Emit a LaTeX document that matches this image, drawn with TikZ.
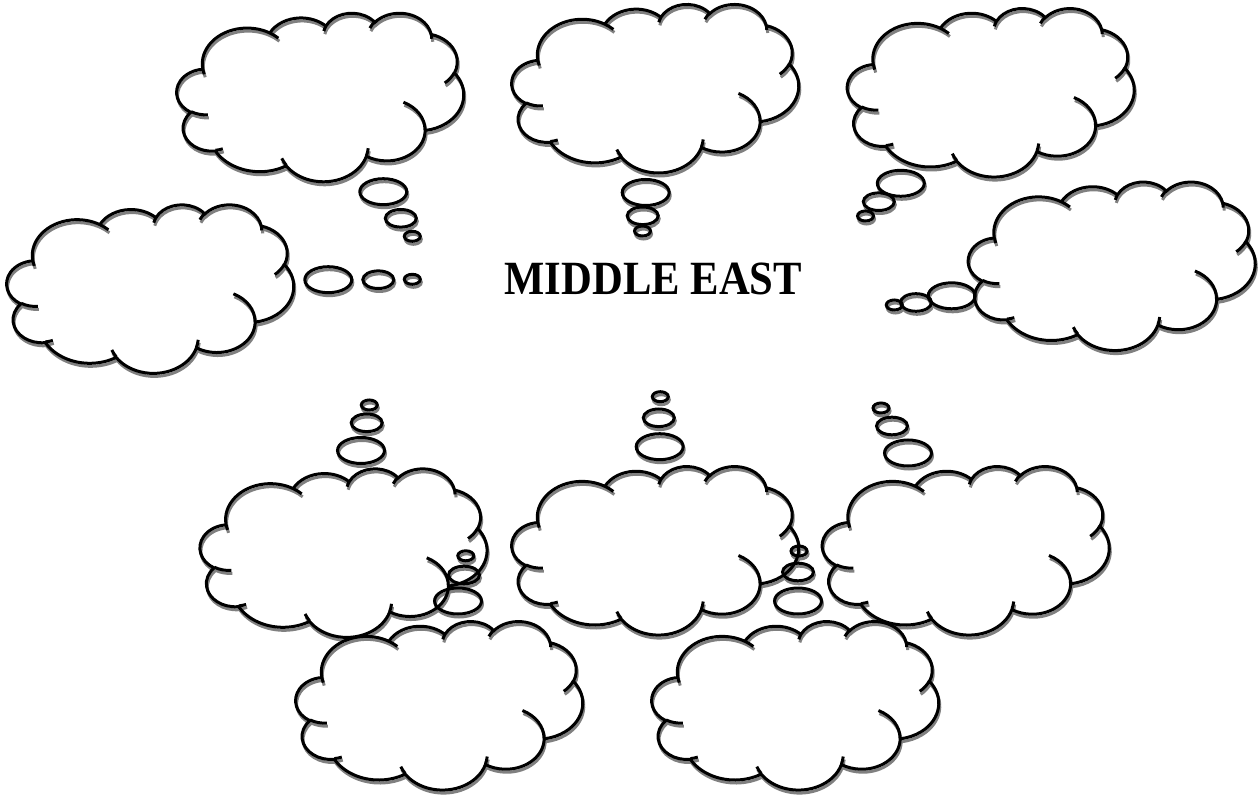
\documentclass[tikz,border=0pt]{standalone}
\usepackage{fontspec}
\setmainfont{Liberation Serif}
\usepackage{graphicx}

% convert DrawingML visual angles to TikZ parametric angles
\newcommand\mkang[5]{%
 \pgfmathsetmacro\tmpS{atan2((#2)*sin(#4),(#3)*cos(#4))}%
 \pgfmathsetmacro\tmpE{atan2((#2)*sin((#4)+(#5)),(#3)*cos((#4)+(#5)))}%
 \pgfmathsetmacro\tmpD{mod((\tmpE)-(\tmpS)+720,360)}%
 \pgfmathsetmacro\tmpF{(\tmpS)+(\tmpD)}%
 \expandafter\xdef\csname #1s\endcsname{\tmpS}%
 \expandafter\xdef\csname #1e\endcsname{\tmpF}}

\mkang{cldOA}{6.753}{9.190}{-190.488}{123.780}
\mkang{cldOB}{5.333}{7.267}{-144.102}{89.945}
\mkang{cldOC}{4.365}{5.945}{-145.808}{99.723}
\mkang{cldOD}{4.857}{6.595}{-130.986}{117.242}
\mkang{cldOE}{5.333}{7.273}{-78.709}{109.027}
\mkang{cldOF}{6.775}{9.220}{-46.267}{130.269}
\mkang{cldOG}{5.785}{7.867}{0.625}{114.033}
\mkang{cldOH}{6.752}{9.215}{22.452}{115.173}
\mkang{cldOI}{7.720}{10.543}{66.243}{75.711}
\mkang{cldOJ}{4.360}{5.918}{-274.942}{146.736}
\mkang{cldOK}{4.345}{5.945}{-246.829}{152.519}
\mkang{cldIA}{4.345}{5.945}{86.742}{26.430}
\mkang{cldIB}{4.360}{5.918}{73.610}{11.447}
\mkang{cldIC}{6.752}{9.215}{137.624}{14.081}
\mkang{cldID}{6.752}{9.215}{6.453}{15.998}
\mkang{cldIE}{5.785}{7.867}{-70.292}{70.917}
\mkang{cldIF}{5.333}{7.273}{30.318}{27.752}
\mkang{cldIG}{4.857}{6.595}{-13.744}{14.859}
\mkang{cldIH}{4.857}{6.595}{-149.181}{18.195}
\mkang{cldII}{4.365}{5.945}{-163.494}{17.686}
\mkang{cldIJ}{6.753}{9.190}{-66.707}{12.319}
\mkang{cldIK}{6.753}{9.190}{157.654}{11.858}

\def\cloudbody{%
 (3.900,14.370)
 arc[start angle=\cldOAs, end angle=\cldOAe, x radius=6.753, y radius=9.190]
 arc[start angle=\cldOBs, end angle=\cldOBe, x radius=5.333, y radius=7.267]
 arc[start angle=\cldOCs, end angle=\cldOCe, x radius=4.365, y radius=5.945]
 arc[start angle=\cldODs, end angle=\cldODe, x radius=4.857, y radius=6.595]
 arc[start angle=\cldOEs, end angle=\cldOEe, x radius=5.333, y radius=7.273]
 arc[start angle=\cldOFs, end angle=\cldOFe, x radius=6.775, y radius=9.220]
 arc[start angle=\cldOGs, end angle=\cldOGe, x radius=5.785, y radius=7.867]
 arc[start angle=\cldOHs, end angle=\cldOHe, x radius=6.752, y radius=9.215]
 arc[start angle=\cldOIs, end angle=\cldOIe, x radius=7.720, y radius=10.543]
 arc[start angle=\cldOJs, end angle=\cldOJe, x radius=4.360, y radius=5.918]
 arc[start angle=\cldOKs, end angle=\cldOKe, x radius=4.345, y radius=5.945]
 -- cycle
 (4.693,26.177) arc[start angle=\cldIAs, end angle=\cldIAe, x radius=4.345, y radius=5.945]
 (6.928,34.899) arc[start angle=\cldIBs, end angle=\cldIBe, x radius=4.360, y radius=5.918]
 (16.478,39.090) arc[start angle=\cldICs, end angle=\cldICe, x radius=6.752, y radius=9.215]
 (28.827,34.751) arc[start angle=\cldIDs, end angle=\cldIDe, x radius=6.752, y radius=9.215]
 (34.129,22.954) arc[start angle=\cldIEs, end angle=\cldIEe, x radius=5.785, y radius=7.867]
 (41.798,15.354) arc[start angle=\cldIFs, end angle=\cldIFe, x radius=5.333, y radius=7.273]
 (38.324,5.426) arc[start angle=\cldIGs, end angle=\cldIGe, x radius=4.857, y radius=6.595]
 (29.078,3.952) arc[start angle=\cldIHs, end angle=\cldIHe, x radius=4.857, y radius=6.595]
 (22.141,4.720) arc[start angle=\cldIIs, end angle=\cldIIe, x radius=4.365, y radius=5.945]
 (14.000,5.192) arc[start angle=\cldIJs, end angle=\cldIJe, x radius=6.753, y radius=9.190]
 (4.127,15.789) arc[start angle=\cldIKs, end angle=\cldIKe, x radius=6.753, y radius=9.190]}

% #1 style, #2 x, #3 y (top-left origin of the cloud path)
\newcommand\cloudat[3]{\draw[#1, shift={(#2,#3)}, xscale=6.64, yscale=3.90] \cloudbody;}
% bubbles: #1 style, centres of large, medium, small
\newcommand\bubbles[4]{%
 \draw[#1] #2 ellipse [x radius=23.5, y radius=13];
 \draw[#1] #3 ellipse [x radius=15.5, y radius=8.8];
 \draw[#1] #4 ellipse [x radius=8, y radius=5];}

\newcommand\allshapes[1]{%
 \cloudat{#1}{176.8}{12.7}
 \cloudat{#1}{511.8}{3.9}
 \cloudat{#1}{847.3}{8}
 \cloudat{#1}{6.8}{204.3}
 \cloudat{#1}{968.3}{181.5}
 \cloudat{#1}{200.1}{468.3}
 \cloudat{#1}{511.8}{466}
 \cloudat{#1}{822.3}{466}
 \cloudat{#1}{295.8}{621}
 \cloudat{#1}{651.8}{621}
 \bubbles{#1}{(383.3,191.7)}{(400.8,218.3)}{(412.3,236.3)}
 \bubbles{#1}{(645.7,192.5)}{(642.7,215.8)}{(642.5,231)}
 \bubbles{#1}{(900.8,183.3)}{(878.8,201.7)}{(865.5,216)}
 \bubbles{#1}{(328.3,279.7)}{(378.3,279.7)}{(412.3,279.3)}
 \bubbles{#1}{(951.7,295.8)}{(916,302.5)}{(894.3,305)}
 \bubbles{#1}{(361,450.5)}{(366.7,422.8)}{(369.3,405)}
 \bubbles{#1}{(659.7,446.7)}{(658.8,417.8)}{(660.3,396.7)}
 \bubbles{#1}{(908,453)}{(892,426)}{(881,408)}
 \bubbles{#1}{(458,601)}{(464,575)}{(465.8,555.8)}
 \bubbles{#1}{(798,601)}{(798,572)}{(799,551)}}

\definecolor{shadowgray}{RGB}{128,128,128}
\tikzset{
  shadowline/.style={draw=shadowgray, line width=3pt, shift={(1,3)}},
  mainline/.style={draw=black, line width=3pt},
}

\begin{document}
\begin{tikzpicture}[x=1pt, y=-1pt]
\fill[white] (0,0) rectangle (1260,799);
\useasboundingbox (0,0) rectangle (1260,799);
\allshapes{shadowline}
\allshapes{mainline}
\node[inner sep=0pt] (title) at (653.4,278.5)
  {\fontsize{47.7}{50}\selectfont\bfseries\scalebox{0.894}[1]{MIDDLE EAST}};
\end{tikzpicture}
\end{document}
